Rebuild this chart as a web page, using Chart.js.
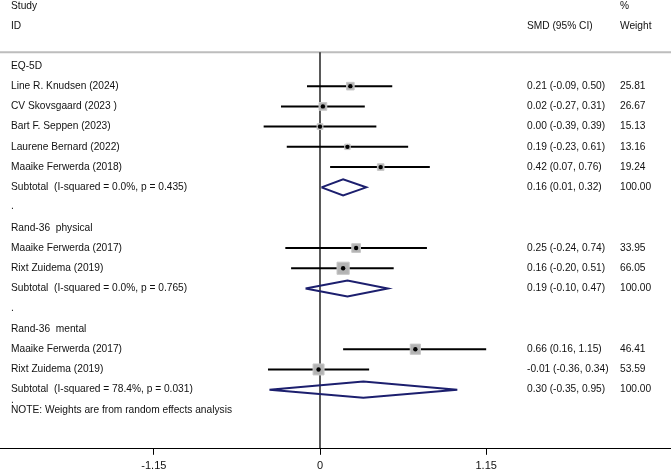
<!DOCTYPE html>
<html>
<head>
<meta charset="utf-8">
<script src="https://cdn.jsdelivr.net/npm/chart.js@4.4.1/dist/chart.umd.min.js"></script>
<style>
  html, body { margin: 0; padding: 0; background: #fff; }
  #wrap { width: 671px; height: 472px; }
</style>
</head>
<body>
<div id="wrap"><canvas id="forest"></canvas></div>
<script>
// study level data
const groupNames = ['EQ-5D', 'Rand-36  physical', 'Rand-36  mental'];
const studyLabels = ['Line R. Knudsen (2024)', 'CV Skovsgaard (2023 )', 'Bart F. Seppen (2023)',
  'Laurene Bernard (2022)', 'Maaike Ferwerda (2018)',
  'Maaike Ferwerda (2017)', 'Rixt Zuidema (2019)',
  'Maaike Ferwerda (2017)', 'Rixt Zuidema (2019)'];
const studyGroup = [0, 0, 0, 0, 0, 1, 1, 2, 2];
const smd = [0.21, 0.02, 0.00, 0.19, 0.42, 0.25, 0.16, 0.66, -0.01];
const ciLow = [-0.09, -0.27, -0.39, -0.23, 0.07, -0.24, -0.20, 0.16, -0.36];
const ciHigh = [0.50, 0.31, 0.39, 0.61, 0.76, 0.74, 0.51, 1.15, 0.34];
const weights = [25.81, 26.67, 15.13, 13.16, 19.24, 33.95, 66.05, 46.41, 53.59];

// subtotals (random effects)
const subLabels = ['Subtotal  (I-squared = 0.0%, p = 0.435)',
  'Subtotal  (I-squared = 0.0%, p = 0.765)',
  'Subtotal  (I-squared = 78.4%, p = 0.031)'];
const subSmd = [0.16, 0.19, 0.30];
const subLow = [0.01, -0.10, -0.35];
const subHigh = [0.32, 0.47, 0.95];

const tickVals = [-1.15, 0, 1.15];
const tickLabels = ['-1.15', '0', '1.15'];

// assign rows
const rows = [];
const studyRow = [], subRow = [];
let r = 0;
groupNames.forEach((g, gi) => {
  rows.push({ r: r, text: g });
  r++;
  studyGroup.forEach((sg, i) => {
    if (sg !== gi) return;
    studyRow[i] = r;
    rows.push({ r: r, text: studyLabels[i],
      est: smd[i].toFixed(2) + ' (' + ciLow[i].toFixed(2) + ', ' + ciHigh[i].toFixed(2) + ')',
      w: weights[i].toFixed(2) });
    r++;
  });
  subRow[gi] = r;
  rows.push({ r: r, text: subLabels[gi],
    est: subSmd[gi].toFixed(2) + ' (' + subLow[gi].toFixed(2) + ', ' + subHigh[gi].toFixed(2) + ')',
    w: '100.00' });
  r++;
  if (gi < groupNames.length - 1) { rows.push({ r: r - 0.05, text: '.' }); r++; }
});
rows.push({ r: r - 0.5, text: '.' });
const noteRow = r;

const datasets = [];
// confidence interval lines
smd.forEach((v, i) => {
  datasets.push({
    type: 'line',
    data: [{ x: ciLow[i], y: studyRow[i] }, { x: ciHigh[i], y: studyRow[i] }],
    borderColor: '#000', borderWidth: 2, pointRadius: 0, order: 3
  });
});
// weight squares
datasets.push({
  type: 'scatter',
  data: smd.map((v, i) => ({ x: v, y: studyRow[i] })),
  pointStyle: 'rect',
  pointRadius: weights.map(w => 1.5 * Math.sqrt(w) / Math.SQRT2),
  backgroundColor: '#b3b3b3', borderColor: '#c8c8c8', borderWidth: 1, order: 2
});
// point estimates
datasets.push({
  type: 'scatter',
  data: smd.map((v, i) => ({ x: v, y: studyRow[i] })),
  pointRadius: 2.2, backgroundColor: '#000', borderWidth: 0, order: 1
});
// subtotal diamonds
const dh = 0.4;
subSmd.forEach((v, gi) => {
  const y = subRow[gi];
  datasets.push({
    type: 'line',
    data: [{ x: subLow[gi], y: y }, { x: v, y: y - dh }, { x: subHigh[gi], y: y },
      { x: v, y: y + dh }, { x: subLow[gi], y: y }],
    borderColor: '#1c1f6e', borderWidth: 2, pointRadius: 0, tension: 0, fill: false, order: 0
  });
});

const forestText = {
  id: 'forestText',
  beforeDatasetsDraw(chart) {
    const { ctx, scales: { x, y }, chartArea } = chart;
    ctx.save();
    // header rule
    ctx.strokeStyle = '#bdbdbd';
    ctx.lineWidth = 2;
    ctx.beginPath();
    ctx.moveTo(0, y.getPixelForValue(-0.68));
    ctx.lineTo(chart.width, y.getPixelForValue(-0.68));
    ctx.stroke();
    // null line
    ctx.strokeStyle = '#000';
    ctx.lineWidth = 1.3;
    ctx.beginPath();
    ctx.moveTo(x.getPixelForValue(0), y.getPixelForValue(-0.68));
    ctx.lineTo(x.getPixelForValue(0), chartArea.bottom);
    ctx.stroke();
    ctx.restore();
  },
  afterDraw(chart) {
    const { ctx, scales: { y } } = chart;
    ctx.save();
    ctx.fillStyle = '#111';
    ctx.font = '10.2px "Liberation Sans", Arial, sans-serif';
    ctx.textBaseline = 'middle';
    const yHead1 = y.getPixelForValue(-2.93), yHead2 = y.getPixelForValue(-1.95);
    ctx.fillText('Study', 11, yHead1);
    ctx.fillText('ID', 11, yHead2);
    ctx.fillText('SMD (95% CI)', 527, yHead2);
    ctx.fillText('%', 620, yHead1);
    ctx.fillText('Weight', 620, yHead2);
    rows.forEach(row => {
      const py = y.getPixelForValue(row.r);
      ctx.fillText(row.text, 11, py);
      if (row.est) ctx.fillText(row.est, 527, py);
      if (row.w) ctx.fillText(row.w, 620, py);
    });
    ctx.fillText('NOTE: Weights are from random effects analysis', 11, y.getPixelForValue(noteRow));
    ctx.restore();
  }
};

const chart = new Chart(document.getElementById('forest'), {
  data: { datasets: datasets },
  plugins: [forestText],
  options: {
    responsive: true,
    maintainAspectRatio: false,
    animation: false,
    layout: { autoPadding: false, padding: { left: 0, right: 0, top: 0, bottom: -6 } },
    plugins: { legend: { display: false }, tooltip: { enabled: false } },
    scales: {
      x: {
        type: 'linear',
        min: -320 / 144.5,
        max: 351 / 144.5,
        afterBuildTicks: axis => { axis.ticks = tickVals.map(v => ({ value: v })); },
        ticks: {
          autoSkip: false, maxRotation: 0, padding: 5,
          color: '#111',
          font: { family: '"Liberation Sans", Arial, sans-serif', size: 11 },
          callback: (v, i) => tickLabels[i]
        },
        grid: { drawOnChartArea: false, drawTicks: true, tickLength: 6, color: '#000' },
        border: { display: true, color: '#000', width: 1 }
      },
      y: {
        type: 'linear', display: false, reverse: true,
        min: -3.257, max: 18.921
      }
    }
  }
});
</script>
</body>
</html>
